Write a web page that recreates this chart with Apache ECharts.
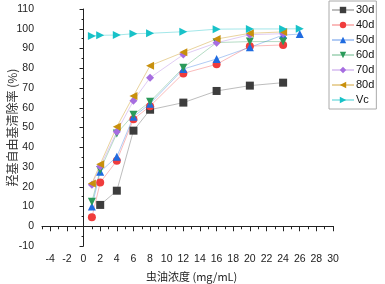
<!DOCTYPE html>
<html>
<head>
<meta charset="utf-8">
<script src="https://cdn.jsdelivr.net/npm/echarts@6/dist/echarts.min.js"></script>
<style>
html,body{margin:0;padding:0;background:#fff;}
#chart{width:385px;height:284px;}
</style>
</head>
<body>
<div id="chart"></div>
<script>
// concentrations (mg/mL)
var conc = [1, 2, 4, 6, 8, 12, 16, 20, 24, 26];

// clearance rate (%) per group, null = no point
var d30 = [null, 10.8, 18.0, 48.4, 59.0, 62.6, 68.5, 71.2, 72.7, null];
var d40 = [4.5, 22.1, 33.2, 54.2, 60.8, 77.4, 82.0, 91.2, 91.8, null];
var d50 = [10.0, 27.6, 35.2, 55.5, 62.0, 79.6, 84.7, 90.6, 96.8, 97.3];
var d60 = [12.4, 28.5, 47.0, 56.5, 63.1, 80.3, 93.0, 93.5, 93.5, null];
var d70 = [21.0, 30.2, 47.9, 63.6, 75.2, 86.9, 92.9, 97.0, 97.5, null];
var d80 = [21.7, 31.4, 50.4, 66.0, 81.3, 88.1, 94.8, 97.7, 98.4, null];
var vc  = [96.3, 96.7, 96.8, 97.5, 97.7, 98.5, 99.8, 99.9, 99.9, 100.0];

var names = ['30d', '40d', '50d', '60d', '70d', '80d', 'Vc'];

function pairs(arr) {
    var out = [];
    for (var i = 0; i < arr.length; i++) {
        if (arr[i] != null) out.push([conc[i], arr[i]]);
    }
    return out;
}

function mk(name, arr, sym, rot, col, lineCol) {
    return {
        name: name,
        type: 'line',
        xAxisIndex: 0,
        yAxisIndex: 0,
        data: pairs(arr),
        symbol: sym,
        symbolRotate: rot,
        symbolSize: 8,
        itemStyle: {color: col},
        lineStyle: {color: lineCol, width: 1},
        emphasis: {disabled: true},
        animation: false
    };
}

var chart = echarts.init(document.getElementById('chart'));
var txt = {color: '#222', fontFamily: 'Liberation Sans, Arial', fontSize: 10.5};

chart.setOption({
    backgroundColor: '#fff',
    grid: [
        {left: 42, right: 52, top: 9, bottom: 38, outerBoundsMode: 'none', containLabel: false},
        {left: 50.25, right: 52, top: 9, bottom: 38, outerBoundsMode: 'none', containLabel: false}
    ],
    legend: {
        orient: 'vertical',
        left: 329,
        top: 1,
        data: names,
        itemWidth: 22,
        itemHeight: 8,
        itemGap: 3,
        padding: [3, 2, 3, 2],
        borderColor: '#aaa',
        borderWidth: 1,
        backgroundColor: '#fff',
        textStyle: {color: '#111', fontFamily: 'Liberation Sans, Arial', fontSize: 11, lineHeight: 12, padding: [0, 0, 0, -3]}
    },
    xAxis: [
        {
            gridIndex: 0, type: 'value', min: -5, max: 30, interval: 1,
            axisLine: {lineStyle: {color: '#222', width: 1}},
            axisTick: {length: 3, lineStyle: {color: '#222'}},
            axisLabel: {show: false},
            splitLine: {show: false}
        },
        {
            gridIndex: 1, type: 'value', min: -4, max: 30, interval: 2,
            axisLine: {show: false},
            axisTick: {length: 5, lineStyle: {color: '#222'}},
            axisLabel: txt,
            splitLine: {show: false},
            name: '虫油浓度 (mg/mL)',
            nameLocation: 'middle',
            nameGap: 25,
            nameMoveOverlap: false,
            nameTextStyle: {color: '#222', fontFamily: 'Noto Sans CJK SC', fontSize: 11}
        }
    ],
    yAxis: [
        {
            gridIndex: 0, type: 'value', min: -10, max: 110, interval: 10,
            axisLine: {show: true, lineStyle: {color: '#222', width: 1}},
            axisTick: {show: true, length: 4, lineStyle: {color: '#222'}},
            minorTick: {show: true, splitNumber: 2, length: 2, lineStyle: {color: '#222'}},
            axisLabel: txt,
            splitLine: {show: false},
            name: '羟基自由基清除率 (%)',
            nameLocation: 'middle',
            nameGap: 24,
            nameMoveOverlap: false,
            nameTextStyle: {color: '#333', fontFamily: 'Noto Sans CJK SC', fontSize: 12}
        },
        {
            gridIndex: 1, type: 'value', min: -10, max: 110, show: false
        }
    ],
    series: [
        mk('30d', d30, 'rect', 0, '#3d3d3d', 'rgba(90,90,90,0.4)'),
        mk('40d', d40, 'circle', 0, '#f03c3c', 'rgba(240,60,60,0.35)'),
        mk('50d', d50, 'triangle', 0, '#1f6be0', 'rgba(31,107,224,0.35)'),
        mk('60d', d60, 'triangle', 180, '#2a9a5a', 'rgba(42,154,90,0.35)'),
        mk('70d', d70, 'diamond', 0, '#a66de0', 'rgba(166,109,224,0.35)'),
        mk('80d', d80, 'triangle', 90, '#c8900c', 'rgba(200,144,12,0.4)'),
        mk('Vc', vc, 'triangle', -90, '#18c2c8', 'rgba(24,194,200,0.4)')
    ]
});
</script>
</body>
</html>
